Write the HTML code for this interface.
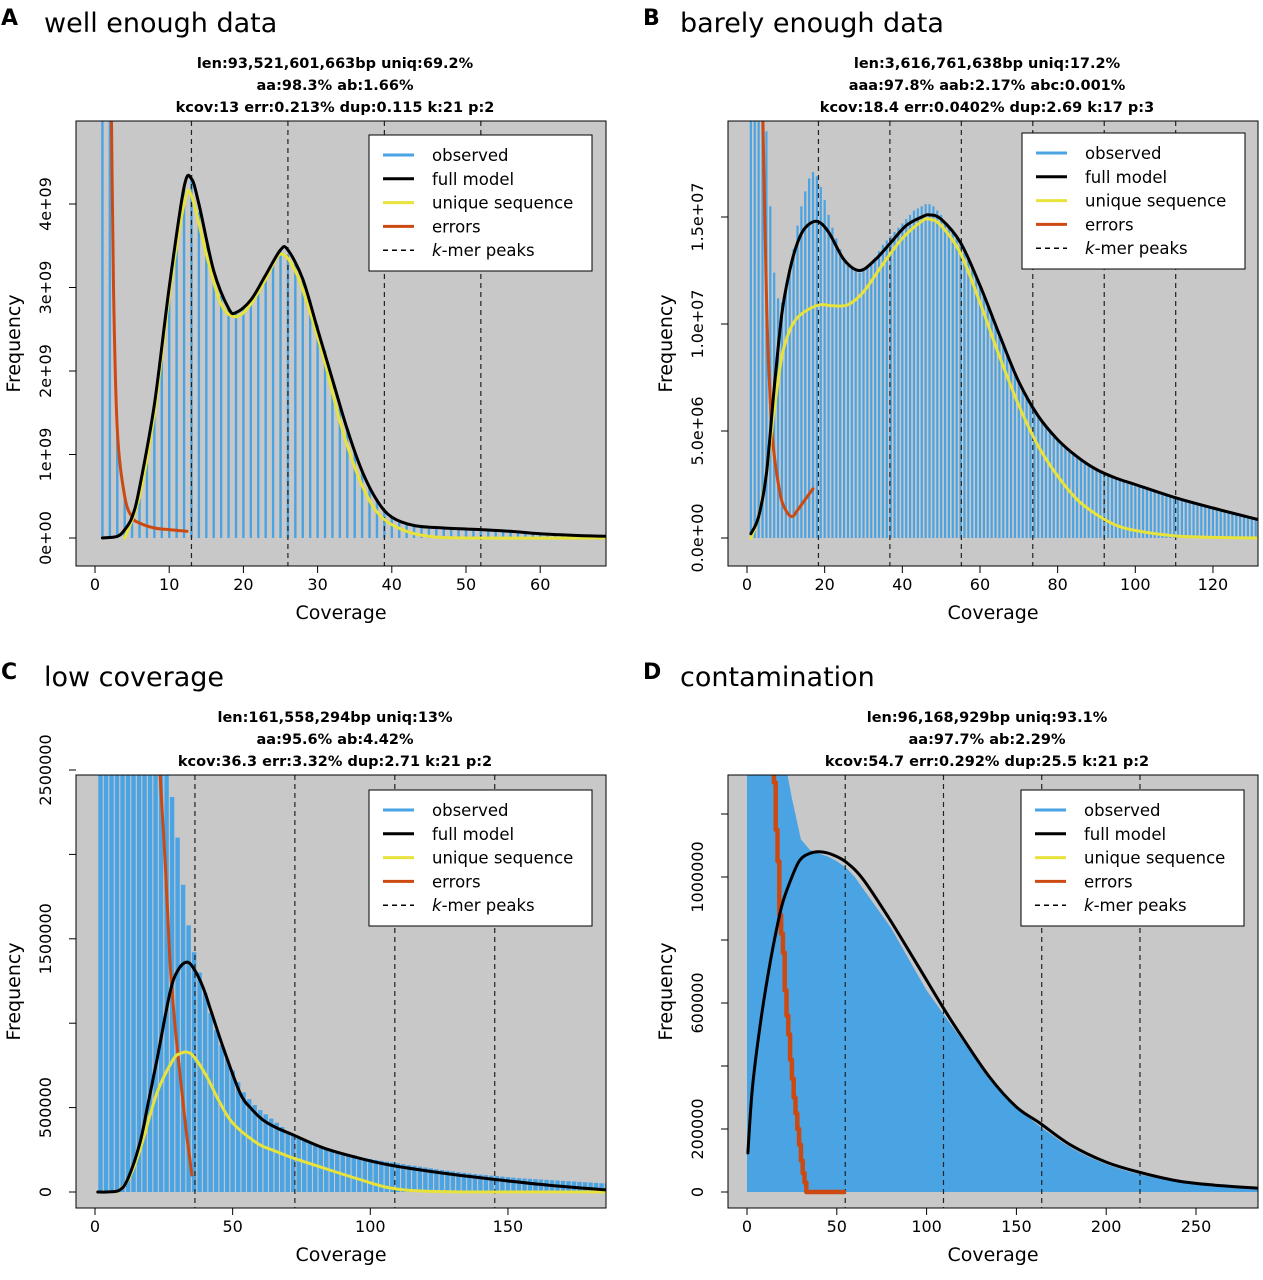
<!DOCTYPE html>
<html><head><meta charset="utf-8"><style>
html,body{margin:0;padding:0;background:#fff}
svg{display:block}
text{font-family:"DejaVu Sans","Liberation Sans",sans-serif}
.ttl{font-family:"DejaVu Sans","Liberation Sans",sans-serif;font-weight:bold;font-size:14.5px}
</style></head><body>
<svg id="fig" width="1263" height="1280" viewBox="0 0 1263 1280"></svg>
<script>
// ---------- Panel A data (Frequency in 1e9) ----------
const obsA=[6,6,1.3,0.5,0.3,0.6,1.0,1.6,2.3,3.0,3.6,4.2,4.35,3.9,3.5,3.1,2.9,2.75,2.7,2.75,2.85,3.0,3.15,3.3,3.45,3.4,3.3,3.1,2.85,2.55,2.25,1.9,1.6,1.3,1.05,0.8,0.6,0.45,0.33,0.25,0.2,0.17,0.15,0.13,0.12,0.11,0.11,0.1,0.1,0.1,0.1,0.1,0.1,0.09,0.09,0.08,0.08,0.07,0.07,0.06,0.06,0.05,0.05,0.04,0.04,0.03,0.03,0.03];
const fullA=[[1,0],[3,0.02],[4,0.1],[5,0.25],[6,0.6],[8,1.6],[10,3.0],[12,4.2],[13,4.3],[14,4.0],[16,3.2],[18,2.75],[19,2.7],[21,2.85],[23,3.15],[25,3.45],[26,3.45],[28,3.1],[30,2.5],[32,1.9],[34,1.3],[36,0.8],[38,0.45],[40,0.25],[43,0.15],[47,0.12],[52,0.1],[56,0.08],[60,0.05],[65,0.03],[69,0.02]];
const uniqA=[[4,0],[6,0.5],[8,1.5],[10,2.9],[12,4.0],[13,4.1],[15,3.4],[17,2.8],[19,2.65],[21,2.8],[23,3.1],[25,3.4],[27,3.2],[29,2.7],[31,2.1],[33,1.4],[35,0.85],[37,0.45],[39,0.22],[42,0.08],[45,0.02],[50,0],[69,0]];
const errA=[[2.1,6],[2.5,3],[3,1.3],[4,0.5],[5,0.25],[6,0.18],[8,0.12],[10,0.1],[12.4,0.08]];
const peaksA=[13,26,39,52];
const yTicksA=[0,1,2,3,4];
const yLabelsA=["0e+00","1e+09","2e+09","3e+09","4e+09"];
const xTicksA=[0,10,20,30,40,50,60];
// ---------- Panel B data (Frequency in 1e6) ----------
const obsB=[22,22,22,22,19,15.5,12.4,11.2,11,11.5,12.5,13.5,14.6,15.5,16.2,16.8,17.1,16.9,16.4,15.8,15.1,14.5,14,13.5,13.1,12.8,12.6,12.5,12.4,12.5,12.7,12.9,13.1,13.4,13.7,13.9,14.1,14.3,14.5,14.7,14.9,15.1,15.3,15.4,15.5,15.6,15.6,15.5,15.3,15.1,14.7,14.5,14.3,14.0,13.8,13.4,13.0,12.6,12.2,11.8,11.3,10.9,10.4,10.0,9.5,9.1,8.6,8.2,7.7,7.3,7.0,6.6,6.3,6.0,5.7,5.5,5.2,5.0,4.8,4.6,4.4,4.3,4.1,4.0,3.8,3.7,3.6,3.4,3.3,3.2,3.1,3.0,2.95,2.9,2.8,2.75,2.7,2.6,2.55,2.5,2.45,2.4,2.35,2.3,2.2,2.15,2.1,2.0,1.95,1.9,1.85,1.8,1.75,1.7,1.65,1.6,1.55,1.5,1.45,1.4,1.35,1.3,1.27,1.23,1.2,1.15,1.1,1.07,1.03,1.0,0.95,0.9,0.88];
const fullB=[[1,0.2],[3,1],[5,3],[7,7],[9,10.5],[11,12.5],[13,13.8],[15,14.5],[18,14.8],[21,14.3],[25,13],[29,12.5],[33,13],[37,13.8],[41,14.6],[45,15.0],[47,15.1],[50,14.9],[55,13.8],[60,11.8],[65,9.5],[70,7.3],[75,5.7],[80,4.6],[85,3.8],[90,3.2],[95,2.8],[100,2.5],[110,1.9],[120,1.4],[133,0.8]];
const uniqB=[[1,0],[3,1],[5,3],[7,6],[9,8.5],[11,9.7],[13,10.3],[16,10.7],[19,10.9],[22,10.85],[26,10.9],[30,11.5],[35,12.8],[40,14.0],[45,14.8],[47,14.9],[50,14.6],[55,13.3],[60,11],[65,8.5],[70,6.2],[75,4.3],[80,2.9],[85,1.8],[90,1.1],[95,0.6],[100,0.35],[110,0.1],[120,0.03],[133,0]];
const errB=[[4.1,19.5],[5.1,10.6],[5.9,6.8],[6.7,4.4],[8.5,2.1],[10,1.3],[11.6,1.0],[13,1.3],[15,1.8],[17,2.3]];
const peaksB=[18.4,36.8,55.2,73.6,92,110.4];
const yTicksB=[0,5,10,15];
const yLabelsB=["0.0e+00","5.0e+06","1.0e+07","1.5e+07"];
const xTicksB=[0,20,40,60,80,100,120];
// ---------- Panel C data ----------
const obsC=[2700000,2700000,2700000,2700000,2700000,2700000,2700000,2700000,2700000,2700000,2700000,2700000,2700000,2340000,2100000,1820000,1580000,1420000,1300000,1180000,1060000,960000,870000,790000,720000,650000,590000,550000,515000,485000,460000,435000,410000,385000,360000,340000,320000,305000,290000,275000,262000,250000,240000,232000,225000,218000,212000,206000,200000,195000,190000,185000,180000,175000,170000,165000,160000,155000,150000,145000,140000,135000,130000,126000,122000,118000,114000,110000,106000,103000,100000,97000,94000,91000,88000,85000,82000,80000,78000,76000,74000,72000,70000,68000,66000,64000,62000,60000,58000,56000,54000,52000,50000];
const fullC=[[1,0],[5,500],[9,12000],[12,80000],[16.3,290000],[19,500000],[22.5,782000],[27.2,1179000],[30,1310000],[33.3,1362000],[36,1320000],[39.2,1214000],[42,1080000],[46.5,859000],[52.7,586000],[57,490000],[61,427000],[66,380000],[72,338000],[83,261000],[95,205000],[107,160000],[125,115000],[147,71000],[165,40000],[186,12000]];
const uniqC=[[8,0],[12,70000],[16.3,249000],[22.5,586000],[28.3,782000],[31,820000],[33.3,829000],[36,800000],[40.7,681000],[45,540000],[50,409000],[58.8,290000],[65,245000],[72,201000],[83,142000],[95,80000],[107,24000],[120,5000],[140,0],[186,0]];
const errC=[[23.6,2480000],[25.5,1950000],[27.2,1374000],[29,1000000],[31,681000],[33,380000],[35.2,100000]];
const peaksC=[36.3,72.6,108.9,145.2];
const yTicksC=[0,500000,1000000,1500000,2000000,2500000];
const yLabelsC=["0","500000","","1500000","","2500000"];
const xTicksC=[0,50,100,150];
// ---------- Panel D data ----------
const obsD=[1400000,1400000,1400000,1400000,1250000,1120000,1086000,1075000,1065000,1050000,1030000,1000000,960000,920000,880000,840000,790000,740000,690000,640000,600000,560000,520000,480000,440000,400000,365000,330000,300000,270000,245000,222000,200000,180000,160000,142000,126000,112000,100000,88000,78000,69000,61000,54000,48000,42000,37000,33000,29000,25000,22000,19500,17000,15000,13000,11500,10000];
const fullD=[[0.5,124000],[3,330000],[7.2,524000],[12,700000],[16.7,841000],[20,921000],[25,1000000],[29.5,1054000],[35,1075000],[40.6,1080000],[48,1070000],[55.7,1045000],[65,990000],[79.6,864000],[95,720000],[109,587000],[120,490000],[135,365000],[150,270000],[163,219000],[180,150000],[200,95000],[219,62000],[240,35000],[260,22000],[285,12000]];
const uniqD=[];
const errD=[[14.5,1400000],[15,1300000],[16,1150000],[17,1050000],[18,880000],[19,820000],[20,760000],[21,640000],[22,560000],[23,500000],[24,420000],[25,360000],[26,300000],[27,250000],[28,200000],[29,150000],[30,100000],[31,60000],[32,30000],[33,0],[54,0]];
const peaksD=[54.7,109.4,164.1,218.8];
const yTicksD=[0,200000,400000,600000,800000,1000000,1200000];
const yLabelsD=["0","200000","","600000","","1000000",""];
const xTicksD=[0,50,100,150,200,250];

const svg=document.getElementById('fig');
const NS=svg.namespaceURI;
function el(tag,attrs,parent){const e=document.createElementNS(NS,tag);for(const k in attrs)e.setAttribute(k,attrs[k]);(parent||svg).appendChild(e);return e;}

function smoothPath(pts){
  let d='M'+pts[0][0].toFixed(1)+','+pts[0][1].toFixed(1);
  for(let i=0;i<pts.length-1;i++){
    const p0=pts[Math.max(0,i-1)],p1=pts[i],p2=pts[i+1],p3=pts[Math.min(pts.length-1,i+2)];
    const c1x=p1[0]+(p2[0]-p0[0])/6,c1y=p1[1]+(p2[1]-p0[1])/6;
    const c2x=p2[0]-(p3[0]-p1[0])/6,c2y=p2[1]-(p3[1]-p1[1])/6;
    d+=' C'+c1x.toFixed(1)+','+c1y.toFixed(1)+' '+c2x.toFixed(1)+','+c2y.toFixed(1)+' '+p2[0].toFixed(1)+','+p2[1].toFixed(1);
  }
  return d;
}

function drawPanel(P){
  const g=el('g',{});
  
  
  const X=v=>P.x0+v*P.kx, Y=v=>P.y0-v*P.ky;
  const cid='clip'+P.id;
  const defs=el('defs',{},g);
  const cp=el('clipPath',{id:cid},defs);
  el('rect',{x:P.L,y:P.T,width:P.R-P.L,height:P.B-P.T},cp);
  const bg=el('rect',{x:P.L,y:P.T,width:P.R-P.L,height:P.B-P.T,fill:'#c8c8c8'},g);
  
  
  const pg=el('g',{'clip-path':'url(#'+cid+')'},g);
  const bars=el('g',{fill:'#4aa3e2'},pg);
  
  
  if(P.area){
    let d='M'+X(0).toFixed(1)+','+P.y0;
    P.obs.forEach((v,i)=>{const c=P.obsStart+i*P.obsStep;d+=' L'+X(c).toFixed(1)+','+Y(v).toFixed(1);});
    d+=' L'+X(P.obsStart+(P.obs.length-1)*P.obsStep).toFixed(1)+','+P.y0+' Z';
    el('path',{d:'M'+X(0)+','+Y(P.obs[0])+' L'+X(P.obsStart)+','+Y(P.obs[0])+' L'+X(P.obsStart)+','+P.y0+' L'+X(0)+','+P.y0+' Z'},bars);
    const ar=el('path',{d:d},bars);
    
    
  } else {
    P.obs.forEach((v,i)=>{
      const c=P.obsStart+i*P.obsStep;
      const r=el('rect',{x:X(c)-P.barW/2,y:Y(v),width:P.barW,height:Math.max(0,P.y0-Y(v))},bars);
      
      
    });
  }
  P.peaks.forEach(c=>{
    const l=el('line',{x1:X(c),x2:X(c),y1:P.T,y2:P.B,stroke:'#222','stroke-width':1.2,'stroke-dasharray':'5,4'},pg);
    
    
  });
  const line=(pts,col,w,name,step)=>{
    if(!pts.length)return;
    let d='';
    if(step){
      pts.forEach((p,i)=>{
        if(i>0){d+=' L'+X(p[0]).toFixed(1)+','+Y(pts[i-1][1]).toFixed(1);}
        d+=(i?' L':'M')+X(p[0]).toFixed(1)+','+Y(p[1]).toFixed(1);
      });
    } else d=smoothPath(pts.map(p=>[X(p[0]),Y(p[1])]));
    const pa=el('path',{d:d,fill:'none',stroke:col,'stroke-width':w,'stroke-linejoin':'round','stroke-linecap':'round'},pg);
    
    
  };
  line(P.err,'#cc4a12',P.id==='d'?4.5:3,'errors-line',P.id==='d');
  line(P.uniq,'#e8e23c',3,'unique-sequence-line');
  line(P.full,'#000',3,'full-model-line');
  const box=el('rect',{x:P.L,y:P.T,width:P.R-P.L,height:P.B-P.T,fill:'none',stroke:'#000','stroke-width':1},g);
  
  
  P.xt.forEach(t=>{
    const tk=el('line',{x1:X(t),x2:X(t),y1:P.B,y2:P.B+7,stroke:'#000'},g);
    
    
    const tx=el('text',{x:X(t),y:P.B+24,'text-anchor':'middle','font-size':16},g);
    tx.textContent=t;
    
    
  });
  P.yt.forEach((t,i)=>{
    const tk=el('line',{x1:P.L-7,x2:P.L,y1:Y(t),y2:Y(t),stroke:'#000'},g);
    
    
    if(P.yl[i]){
      const tx=el('text',{x:0,y:0,'text-anchor':'middle','font-size':16,transform:'translate('+(P.L-25)+','+Y(t)+') rotate(-90)'},g);
      tx.textContent=P.yl[i];
      
      
    }
  });
  const xa=el('text',{x:(P.L+P.R)/2,y:P.B+53,'text-anchor':'middle','font-size':19},g);
  xa.textContent='Coverage';
  
  
  const ya=el('text',{x:0,y:0,'text-anchor':'middle','font-size':19,transform:'translate('+(P.L-56)+','+((P.T+P.B)/2)+') rotate(-90)'},g);
  ya.textContent='Frequency';
  
  
  const L0=el('text',{x:P.letX,y:P.T-96,'font-size':22,'font-weight':'bold'},g);
  L0.textContent=P.letter;
  
  
  const T0=el('text',{x:P.titX,y:P.T-89,'font-size':27},g);
  T0.textContent=P.title;
  
  
  P.sub.forEach((s,i)=>{
    const t=el('text',{x:(P.L+P.R)/2-6,y:P.T-53+i*22,'text-anchor':'middle','class':'ttl'},g);
    t.textContent=s;
    
    
  });
  const lg=el('g',{},g);
  
  
  el('rect',{x:P.lx,y:P.ly,width:223,height:136,fill:'#fff',stroke:'#000'},lg);
  const items=[['observed','#4aa3e2',''],['full model','#000',''],['unique sequence','#e8e23c',''],['errors','#cc4a12',''],['-mer peaks','#000','5,4']];
  items.forEach((it,i)=>{
    const yy=P.ly+20+i*23.8;
    const ln=el('line',{x1:P.lx+14,x2:P.lx+45,y1:yy,y2:yy,stroke:it[1],'stroke-width':it[2]?1.5:3,'stroke-dasharray':it[2]||'none'},lg);
    
    
    const tx=el('text',{x:P.lx+63,y:yy+6,'font-size':16.5},lg);
    if(i===4){const k=el('tspan',{'font-style':'italic'},tx);k.textContent='k';tx.appendChild(document.createTextNode('-mer peaks'));}
    else tx.textContent=it[0];
    
    
  });
}

drawPanel({id:'a',L:76,R:606,T:121,B:566,x0:95,kx:7.42,y0:538,ky:83.5,obs:obsA,obsStart:1,obsStep:1,barW:2.4,full:fullA,uniq:uniqA,err:errA,peaks:peaksA,yt:yTicksA,yl:yLabelsA,xt:xTicksA,letter:'A',letX:1,titX:44,title:'well enough data',sub:['len:93,521,601,663bp uniq:69.2%','aa:98.3% ab:1.66%','kcov:13 err:0.213%  dup:0.115  k:21 p:2'],lx:369,ly:135});
drawPanel({id:'b',L:728,R:1258,T:121,B:566,x0:747,kx:3.883,y0:538,ky:21.4,obs:obsB,obsStart:1,obsStep:1,barW:2.2,full:fullB,uniq:uniqB,err:errB,peaks:peaksB,yt:yTicksB,yl:yLabelsB,xt:xTicksB,letter:'B',letX:643,titX:680,title:'barely enough data',sub:['len:3,616,761,638bp uniq:17.2%','aaa:97.8% aab:2.17% abc:0.001%','kcov:18.4 err:0.0402%  dup:2.69  k:17 p:3'],lx:1022,ly:133});
drawPanel({id:'c',L:76,R:606,T:775,B:1208,x0:95,kx:2.753,y0:1192,ky:422/2500000,obs:obsC,obsStart:2,obsStep:2,barW:4.4,full:fullC,uniq:uniqC,err:errC,peaks:peaksC,yt:yTicksC,yl:yLabelsC,xt:xTicksC,letter:'C',letX:1,titX:44,title:'low coverage',sub:['len:161,558,294bp uniq:13%','aa:95.6% ab:4.42%','kcov:36.3 err:3.32%  dup:2.71  k:21 p:2'],lx:369,ly:790});
drawPanel({id:'d',L:728,R:1258,T:775,B:1208,x0:747,kx:1.796,y0:1192,ky:315/1000000,obs:obsD,obsStart:5,obsStep:5,barW:9.6,area:true,full:fullD,uniq:uniqD,err:errD,peaks:peaksD,yt:yTicksD,yl:yLabelsD,xt:xTicksD,letter:'D',letX:643,titX:680,title:'contamination',sub:['len:96,168,929bp uniq:93.1%','aa:97.7% ab:2.29%','kcov:54.7 err:0.292%  dup:25.5  k:21 p:2'],lx:1021,ly:790});
</script>
</body></html>
